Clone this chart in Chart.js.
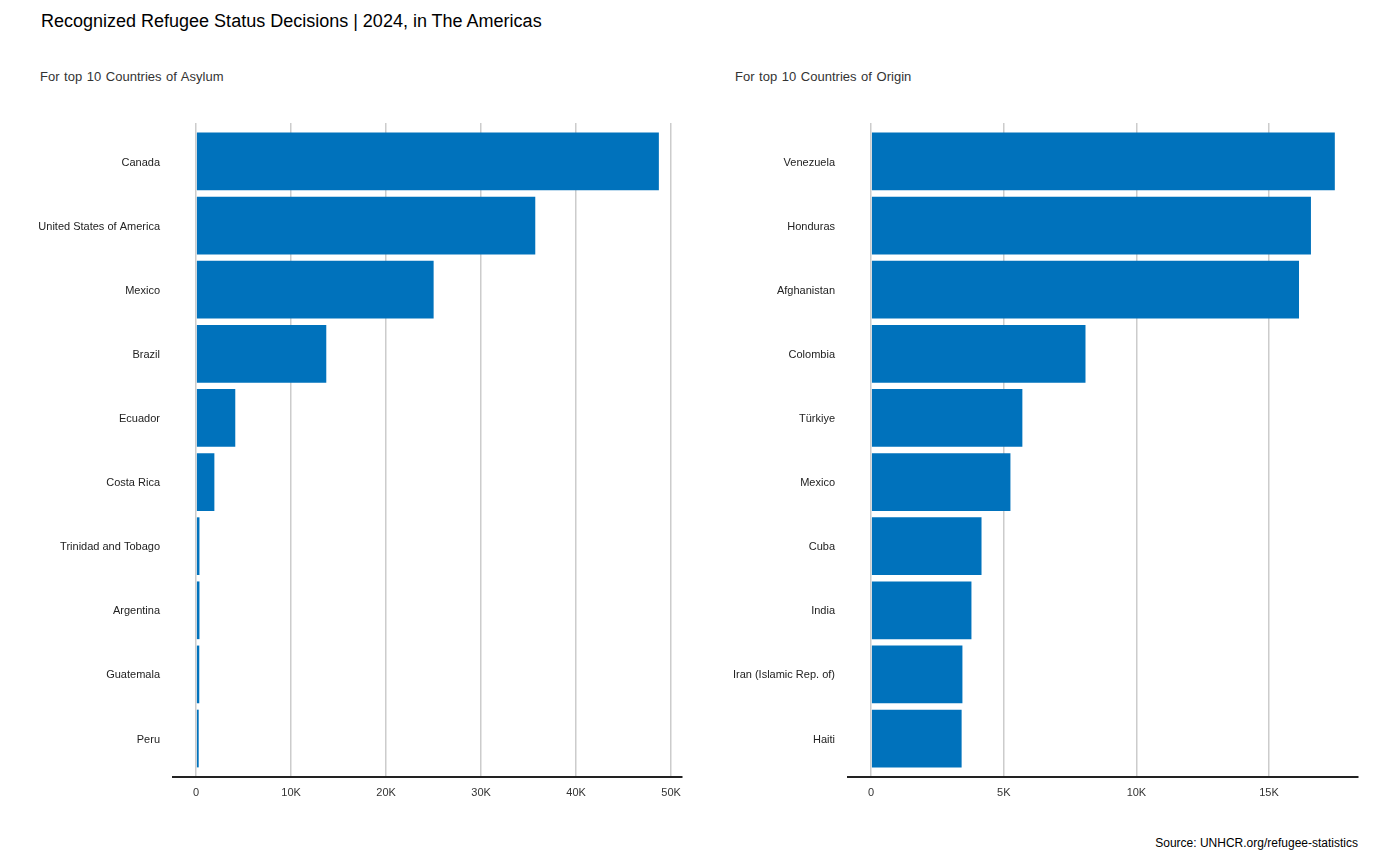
<!DOCTYPE html>
<html>
<head>
<meta charset="utf-8">
<script src="https://cdn.jsdelivr.net/npm/chart.js@4/dist/chart.umd.min.js"></script>
<style>
  body { margin: 0; background: #fff; font-family: "Liberation Sans", Arial, sans-serif; color: #222; }
  #page { position: relative; width: 1400px; height: 865px; }
  .title { position: absolute; left: 41px; top: 9px; font-size: 18px; line-height: 24px; color: #000; }
  .sub { position: absolute; top: 69px; font-size: 13px; line-height: 16px; color: #333; word-spacing: 1px; }
  .source { position: absolute; right: 42px; top: 835px; font-size: 12px; line-height: 16px; color: #000; }
  .box { position: absolute; top: 100px; width: 700px; height: 710px; }
</style>
</head>
<body>
<div id="page">
  <div class="title">Recognized Refugee Status Decisions | 2024, in The Americas</div>
  <div class="sub" style="left:40px">For top 10 Countries of Asylum</div>
  <div class="sub" style="left:735px">For top 10 Countries of Origin</div>
  <div class="box" style="left:0px"><canvas id="asylumChart"></canvas></div>
  <div class="box" style="left:700px"><canvas id="originChart"></canvas></div>
  <div class="source">Source: UNHCR.org/refugee-statistics</div>
</div>
<script>
// countries of asylum
const asylumNames = ['Canada', 'United States of America', 'Mexico', 'Brazil', 'Ecuador',
  'Costa Rica', 'Trinidad and Tobago', 'Argentina', 'Guatemala', 'Peru'];
const asylumValues = [48710, 35700, 25000, 13700, 4120, 1920, 350, 350, 330, 270];
const asylumTicks = [0, 10000, 20000, 30000, 40000, 50000];
const asylumTickLabels = ['0', '10K', '20K', '30K', '40K', '50K'];

// countries of origin
const originNames = ['Venezuela', 'Honduras', 'Afghanistan', 'Colombia', 'Türkiye',
  'Mexico', 'Cuba', 'India', 'Iran (Islamic Rep. of)', 'Haiti'];
const originValues = [17480, 16580, 16130, 8080, 5700, 5250, 4160, 3780, 3440, 3410];
const originTicks = [0, 5000, 10000, 15000];
const originTickLabels = ['0', '5K', '10K', '15K'];

const barColor = '#0072BC';

function makeChart(id, names, values, ticks, tickLabels, axisWidth, padRight) {
  var maxVal = Math.max.apply(null, values);
  var expand = maxVal * 0.05;   // same spread ggplot gives the axis
  var ctx = document.getElementById(id).getContext('2d');
  return new Chart(ctx, {
    type: 'bar',
    data: {
      datasets: [{
        data: values.map(function (v, i) { return { x: v, y: i }; }),
        backgroundColor: barColor,
        borderWidth: 0,
        categoryPercentage: 0.9,
        barPercentage: 1
      }]
    },
    options: {
      indexAxis: 'y',
      responsive: true,
      maintainAspectRatio: false,
      animation: false,
      layout: { padding: { top: 23, right: padRight, left: 0, bottom: 0 } },
      plugins: { legend: { display: false }, tooltip: { enabled: false } },
      scales: {
        x: {
          type: 'linear',
          min: -expand,
          max: maxVal + expand,
          afterBuildTicks: function (scale) {
            scale.ticks = ticks.map(function (t) { return { value: t }; });
          },
          afterFit: function (scale) { scale.height = 33; },
          grid: { color: '#cccccc', lineWidth: 1.5, drawTicks: false },
          border: { display: true, color: '#222222', width: 2 },
          ticks: {
            padding: 9,
            color: '#333333',
            font: { family: '"Liberation Sans", Arial, sans-serif', size: 11 },
            callback: function (v) { return tickLabels[ticks.indexOf(v)]; }
          }
        },
        y: {
          type: 'linear',
          offset: false,
          reverse: true,
          min: -0.6,
          max: names.length - 0.4,
          afterBuildTicks: function (scale) {
            scale.ticks = names.map(function (n, i) { return { value: i }; });
          },
          afterFit: function (scale) { scale.width = axisWidth; },
          grid: { display: false, drawTicks: false },
          border: { display: false },
          ticks: {
            autoSkip: false,
            padding: 13,
            labelOffset: 1,
            color: '#222222',
            font: { family: '"Liberation Sans", Arial, sans-serif', size: 11 },
            callback: function (v) { return names[v]; }
          }
        }
      }
    }
  });
}

makeChart('asylumChart', asylumNames, asylumValues, asylumTicks, asylumTickLabels, 173, 18);
makeChart('originChart', originNames, originValues, originTicks, originTickLabels, 148, 42);
</script>
</body>
</html>
